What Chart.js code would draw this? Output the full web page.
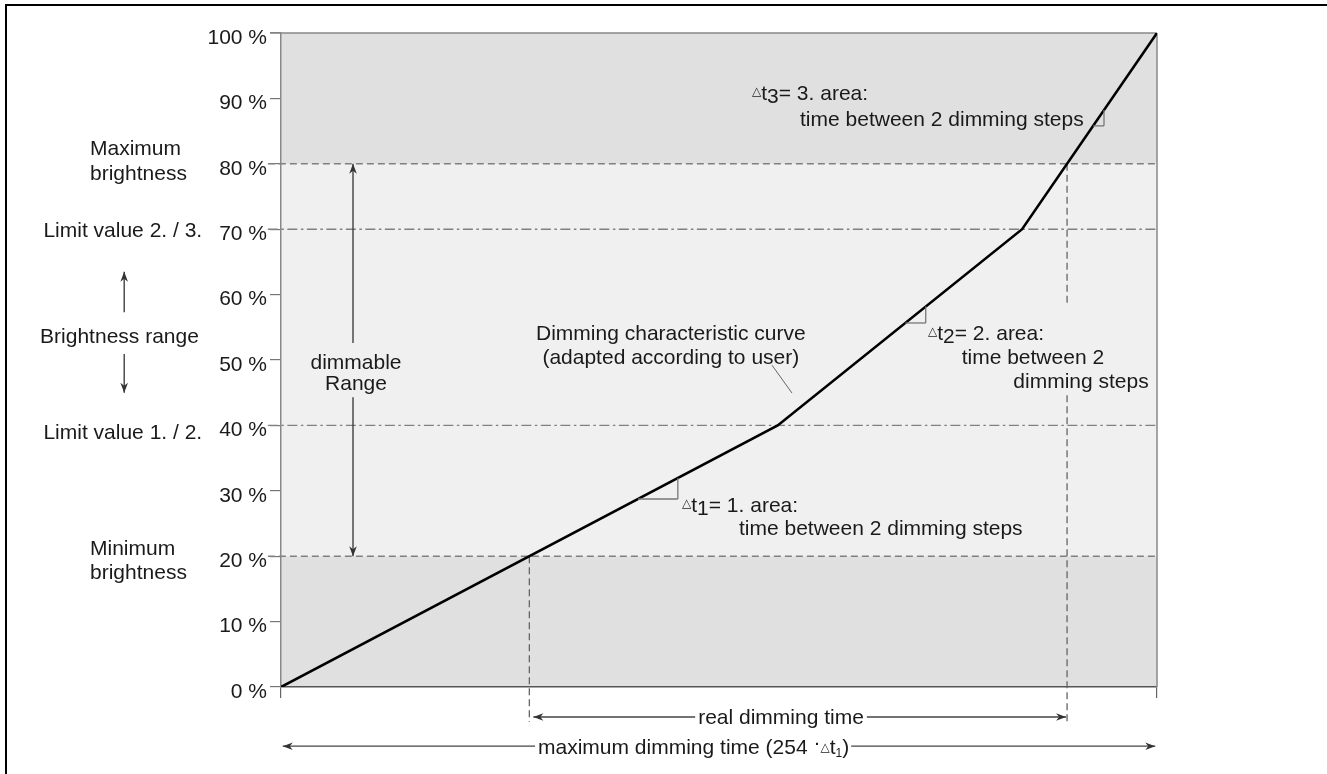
<!DOCTYPE html>
<html><head><meta charset="utf-8">
<script src="https://cdn.jsdelivr.net/npm/chart.js@4"></script>
<style>html,body{margin:0;padding:0;background:#fff;overflow:hidden}canvas{display:block}</style>
</head><body><canvas id="c" width="1327" height="774"></canvas>
<script>
// ---- data ----
const curveTime = [0, 56.7, 84.6, 100];          // dimming time (% of maximum dimming time)
const curveBrightness = [0, 40, 70, 100];        // brightness %
const yTickValues = [0,10,20,30,40,50,60,70,80,90,100];
const yTickLabels = ['0 %','10 %','20 %','30 %','40 %','50 %','60 %','70 %','80 %','90 %','100 %'];
const bandEdges = [0, 20, 80, 100];
const bandColors = ['#e0e0e0', '#f0f0f0', '#e0e0e0'];
const minBrightness = 20, maxBrightness = 80;
const limitValues = [40, 70];

const FONT = '"Liberation Sans", Arial, sans-serif';
const TXT = '#1a1a1a';

function timeAt(b){
  for(let i=0;i<curveBrightness.length-1;i++){
    const b0=curveBrightness[i], b1=curveBrightness[i+1];
    if(b>=b0 && b<=b1) return curveTime[i]+(b-b0)/(b1-b0)*(curveTime[i+1]-curveTime[i]);
  }
  return curveTime[curveTime.length-1];
}
function brightAt(t){
  for(let i=0;i<curveTime.length-1;i++){
    const t0=curveTime[i], t1=curveTime[i+1];
    if(t>=t0 && t<=t1) return curveBrightness[i]+(t-t0)/(t1-t0)*(curveBrightness[i+1]-curveBrightness[i]);
  }
  return 100;
}

function head(ctx,x,y,ang){
  const len=10,hw=3.8,notch=3;
  const dx=Math.cos(ang),dy=Math.sin(ang),px=-dy,py=dx;
  ctx.beginPath();
  ctx.moveTo(x,y);
  ctx.lineTo(x-len*dx+hw*px,y-len*dy+hw*py);
  ctx.lineTo(x-(len-notch)*dx,y-(len-notch)*dy);
  ctx.lineTo(x-len*dx-hw*px,y-len*dy-hw*py);
  ctx.closePath(); ctx.fill();
}
function line(ctx,x1,y1,x2,y2){ctx.beginPath();ctx.moveTo(x1,y1);ctx.lineTo(x2,y2);ctx.stroke();}
function rich(ctx,segs,x,yc,align){
  let w=0;
  segs.forEach(s=>{ctx.font=(s.size||21)+'px '+(s.fam||FONT);s.w=ctx.measureText(s.t).width;w+=s.w;});
  let cx = align==='center'? x-w/2 : align==='right'? x-w : x;
  ctx.textAlign='left'; ctx.textBaseline='alphabetic';
  segs.forEach(s=>{ctx.font=(s.size||21)+'px '+(s.fam||FONT);ctx.fillText(s.t,cx,yc+7+(s.dy||0));cx+=s.w;});
}
const T=(t)=>[{t}];
const TRI={t:'\u25B3',size:12,dy:-5,fam:'"DejaVu Sans", sans-serif'};

const deco = {
  id:'deco',
  beforeDraw(chart){
    const {ctx,chartArea:a,scales:{y}}=chart;
    ctx.save();
    ctx.fillStyle='#fff'; ctx.fillRect(0,0,chart.width,chart.height);
    for(let i=0;i<bandColors.length;i++){
      const top=y.getPixelForValue(bandEdges[i+1]), bot=y.getPixelForValue(bandEdges[i]);
      ctx.fillStyle=bandColors[i]; ctx.fillRect(a.left,top,a.right-a.left,bot-top);
    }
    ctx.restore();
  },
  beforeDatasetsDraw(chart){
    const {ctx,chartArea:a,scales:{x,y}}=chart;
    const X=v=>x.getPixelForValue(v), Y=v=>y.getPixelForValue(v);
    ctx.save();
    ctx.strokeStyle='#888'; ctx.lineWidth=1.5;
    line(ctx,a.left-11,a.top,a.right,a.top);
    line(ctx,a.right,a.top,a.right,a.bottom);
    ctx.strokeStyle='#808080'; ctx.lineWidth=1.4; ctx.setLineDash([7,4]);
    [minBrightness,maxBrightness].forEach(b=>line(ctx,X(-1.5),Y(b),a.right,Y(b)));
    ctx.setLineDash([10,3.5,2.5,3.5]);
    limitValues.forEach(b=>line(ctx,X(-1.5),Y(b),a.right,Y(b)));
    ctx.strokeStyle='#666'; ctx.lineWidth=1.3; ctx.setLineDash([7,4]);
    const ts=timeAt(minBrightness), te=timeAt(maxBrightness);
    line(ctx,X(ts),Y(minBrightness),X(ts),Y(-5.35));
    line(ctx,X(te),Y(maxBrightness),X(te),Y(58.7));
    line(ctx,X(te),Y(44.6),X(te),Y(-5.35));
    ctx.setLineDash([]);
    ctx.restore();
  },
  afterDraw(chart){
    const {ctx,chartArea:a,scales:{x,y}}=chart;
    const X=v=>x.getPixelForValue(v), Y=v=>y.getPixelForValue(v);
    ctx.save();
    ctx.fillStyle=TXT;
    rich(ctx,T('Maximum'),X(-21.8),Y(82.4),'left');
    rich(ctx,T('brightness'),X(-21.8),Y(78.6),'left');
    rich(ctx,T('Limit value 2. / 3.'),X(-9.0),Y(69.9),'right');
    rich(ctx,T('Brightness range'),X(-27.5),Y(53.7),'left');
    rich(ctx,T('Limit value 1. / 2.'),X(-9.0),Y(39.0),'right');
    rich(ctx,T('Minimum'),X(-21.8),Y(21.25),'left');
    rich(ctx,T('brightness'),X(-21.8),Y(17.6),'left');
    ctx.strokeStyle='#333'; ctx.fillStyle='#333'; ctx.lineWidth=1.3;
    line(ctx,X(-17.9),Y(63.5),X(-17.9),Y(57.3)); head(ctx,X(-17.9),Y(63.5),-Math.PI/2);
    line(ctx,X(-17.9),Y(50.9),X(-17.9),Y(45.0)); head(ctx,X(-17.9),Y(45.0),Math.PI/2);
    line(ctx,X(8.22),Y(maxBrightness),X(8.22),Y(52.6));
    line(ctx,X(8.22),Y(44.3),X(8.22),Y(minBrightness));
    head(ctx,X(8.22),Y(maxBrightness),-Math.PI/2);
    head(ctx,X(8.22),Y(minBrightness),Math.PI/2);
    ctx.fillStyle=TXT;
    rich(ctx,T('dimmable'),X(8.56),Y(49.7),'center');
    rich(ctx,T('Range'),X(8.56),Y(46.5),'center');
    rich(ctx,T('Dimming characteristic curve'),X(44.5),Y(54.1),'center');
    rich(ctx,T('(adapted according to user)'),X(44.5),Y(50.45),'center');
    ctx.strokeStyle='#666'; ctx.lineWidth=1;
    line(ctx,X(56.05),Y(49.2),X(58.33),Y(44.95));
    ctx.strokeStyle='#777'; ctx.lineWidth=1.3;
    [[45.3,28.75],[73.6,55.66],[93.95,85.8]].forEach(([xc,yb])=>{
      line(ctx,X(timeAt(yb)),Y(yb),X(xc),Y(yb));
      line(ctx,X(xc),Y(yb),X(xc),Y(brightAt(xc)));
    });
    ctx.fillStyle=TXT;
    rich(ctx,[TRI,{t:'t'},{t:'1',dy:3},{t:'= 1. area:'}],X(45.78),Y(27.83),'left');
    rich(ctx,T('time between 2 dimming steps'),X(52.28),Y(24.31),'left');
    rich(ctx,[TRI,{t:'t'},{t:'2',dy:3},{t:'= 2. area:'}],X(73.86),Y(54.13),'left');
    rich(ctx,T('time between 2'),X(77.7),Y(50.46),'left');
    rich(ctx,T('dimming steps'),X(83.6),Y(46.79),'left');
    rich(ctx,[TRI,{t:'t'},{t:'3',dy:3},{t:'= 3. area:'}],X(53.77),Y(90.83),'left');
    rich(ctx,T('time between 2 dimming steps'),X(59.25),Y(86.85),'left');
    const ts=timeAt(minBrightness), te=timeAt(maxBrightness);
    ctx.font='21px '+FONT;
    const rdy=Y(-4.59), rcx=X(57.08);
    const rw=ctx.measureText('real dimming time').width;
    ctx.strokeStyle='#444'; ctx.fillStyle='#333'; ctx.lineWidth=1.3;
    line(ctx,X(ts)+4,rdy,rcx-rw/2-3,rdy); line(ctx,rcx+rw/2+3,rdy,X(te)-1,rdy);
    head(ctx,X(ts)+4,rdy,Math.PI); head(ctx,X(te)-1,rdy,0);
    ctx.fillStyle=TXT;
    rich(ctx,T('real dimming time'),rcx,Y(-4.59),'center');
    const mdy=Y(-9.05);
    const msegs=[{t:'maximum dimming time (254 '},{t:'\u00B7',dy:-5},{t:'\u25B3',size:12,dy:-3,fam:'"DejaVu Sans", sans-serif'},{t:'t'},{t:'1',size:12,dy:3},{t:')'}];
    let mw=0; msegs.forEach(s=>{ctx.font=(s.size||21)+'px '+(s.fam||FONT);mw+=ctx.measureText(s.t).width;});
    const mx0=X(29.34);
    ctx.fillStyle='#333';
    line(ctx,X(0.2),mdy,mx0-3,mdy); line(ctx,mx0+mw+2,mdy,X(99.8),mdy);
    head(ctx,X(0.2),mdy,Math.PI); head(ctx,X(99.8),mdy,0);
    ctx.fillStyle=TXT;
    rich(ctx,msegs,mx0,Y(-9.17),'left');
    ctx.fillStyle='#000';
    ctx.fillRect(5,4,2,chart.height-4);
    ctx.fillRect(5,4,chart.width-5,2);
    ctx.restore();
  }
};

new Chart(document.getElementById('c'),{
  type:'line',
  data:{datasets:[{
    data:curveTime.map((t,i)=>({x:t,y:curveBrightness[i]})),
    borderColor:'#000',borderWidth:2.6,pointRadius:0,tension:0,fill:false
  }]},
  options:{
    responsive:false,animation:false,devicePixelRatio:1,
    layout:{padding:{top:33,right:170,left:0,bottom:0}},
    plugins:{legend:{display:false},tooltip:{enabled:false}},
    scales:{
      x:{type:'linear',min:0,max:100,
        afterFit(s){s.height=87;},
        afterBuildTicks(s){s.ticks=[{value:0},{value:100}];},
        ticks:{callback:()=> '',padding:0},
        grid:{drawOnChartArea:false,drawTicks:true,tickLength:11,color:'#666',lineWidth:1.2},
        border:{color:'#555',width:1.5}},
      y:{type:'linear',min:0,max:100,
        afterFit(s){s.width=281;},
        afterBuildTicks(s){s.ticks=yTickValues.map(v=>({value:v}));},
        ticks:{callback:(v,i)=>yTickLabels[i],font:{family:FONT,size:21},color:TXT,padding:3,labelOffset:5},
        grid:{drawOnChartArea:false,drawTicks:true,tickLength:11,color:'#777',lineWidth:1.2},
        border:{color:'#888',width:1.5}}
    }
  },
  plugins:[deco]
});
</script>
</body></html>
